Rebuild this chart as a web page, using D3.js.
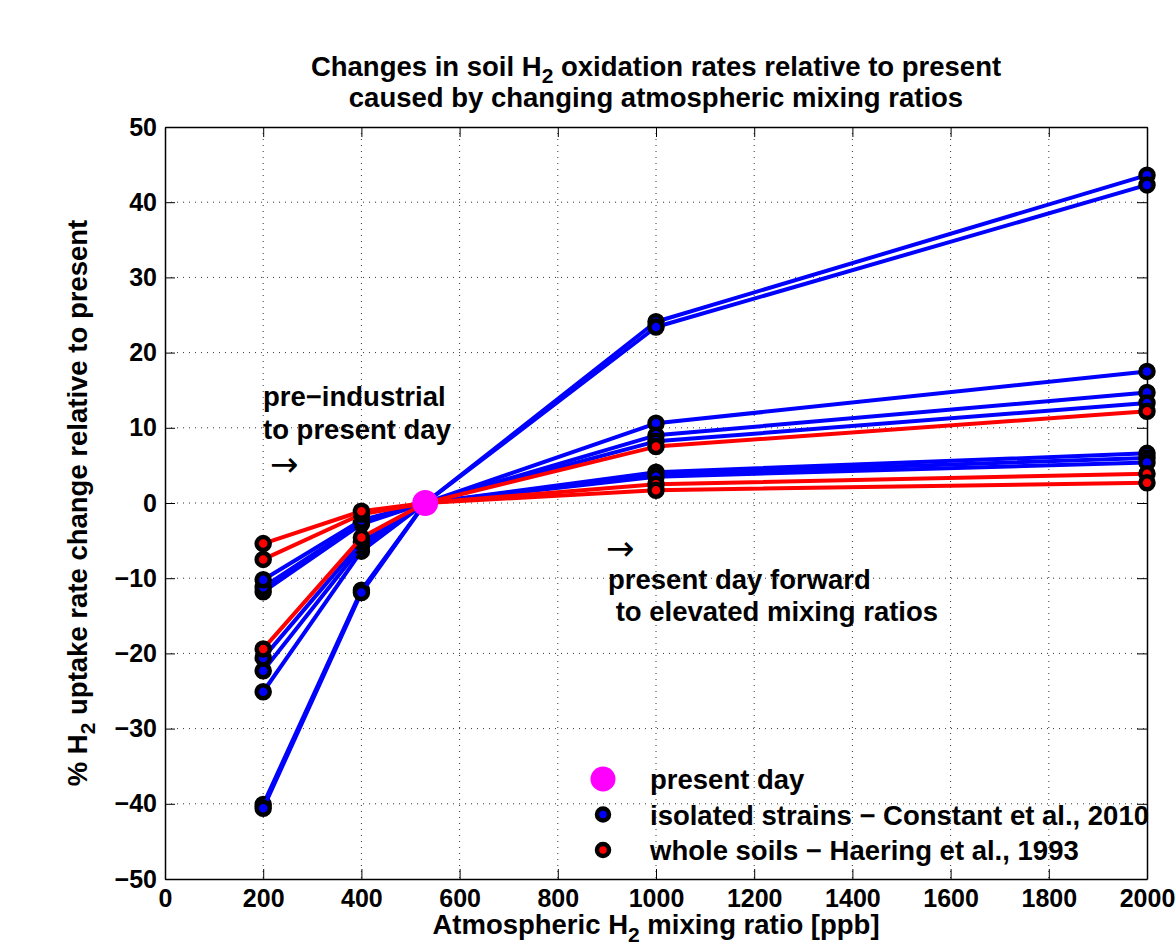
<!DOCTYPE html>
<meta charset="utf-8">
<script src="https://cdn.jsdelivr.net/npm/d3@7"></script>
<style>
body { margin: 0; background: #fff; }
text { font-family: "Liberation Sans", Arial, sans-serif; font-weight: bold; fill: #000; }
.grid line { stroke: #333; stroke-width: 1; stroke-dasharray: 1,5; }
.axis path { stroke: #000; stroke-width: 1.5; }
.axis line { stroke: #000; stroke-width: 1; }
.axis text { font-size: 25px; font-family: "Liberation Sans", Arial, sans-serif; font-weight: bold; }
path.series { fill: none; stroke-width: 4; stroke-linejoin: round; }
.arrow { font-family: "DejaVu Sans", sans-serif; font-weight: normal; font-size: 34px; }
</style>
<body>
<script>

// mixing ratios where rates were evaluated (ppb)
var mixingRatios = [200, 400, 1000, 2000];

// present day point (ppb, % change)
var presentDay = [530, 0];

// isolated strains - Constant et al., 2010 (% change at each mixing ratio)
var strainSeries = [
  [-40.1, -11.6, 24.1, 43.6],
  [-40.6, -11.9, 23.4, 42.3],
  [-25.1, -6.4, 10.6, 17.5],
  [-22.3, -5.8, 9.0, 14.7],
  [-20.6, -5.2, 8.2, 13.3],
  [-11.8, -2.8, 4.1, 6.6],
  [-11.2, -2.6, 3.8, 6.0],
  [-10.2, -2.3, 3.5, 5.4]
];

// whole soils - Haering et al., 1993
var soilSeries = [
  [-19.4, -4.6, 7.5, 12.2],
  [-7.5, -1.5, 2.5, 3.9],
  [-5.4, -1.1, 1.7, 2.7]
];

var xTickValues = [0, 200, 400, 600, 800, 1000, 1200, 1400, 1600, 1800, 2000];
var yTickValues = [-50, -40, -30, -20, -10, 0, 10, 20, 30, 40, 50];

var width = 1176,
    height = 942;

var x = d3.scaleLinear().domain([0, 2000]).range([165, 1147]);
var y = d3.scaleLinear().domain([-50, 50]).range([879, 127]);

var svg = d3.select("body").append("svg")
    .attr("width", width)
    .attr("height", height);

svg.append("rect").attr("width", width).attr("height", height).attr("fill", "#fff");

// dotted grid
var grid = svg.append("g").attr("class", "grid");
grid.selectAll(".gx")
    .data(xTickValues.slice(1, -1))
    .enter().append("line")
    .attr("x1", function(d) { return x(d); })
    .attr("x2", function(d) { return x(d); })
    .attr("y1", y(50))
    .attr("y2", y(-50));
grid.selectAll(".gy")
    .data(yTickValues.slice(1, -1))
    .enter().append("line")
    .attr("x1", x(0))
    .attr("x2", x(2000))
    .attr("y1", function(d) { return y(d); })
    .attr("y2", function(d) { return y(d); });

// axes, ticks pointing inwards on all four sides
svg.append("g").attr("class", "axis")
    .attr("transform", "translate(0," + y(-50) + ")")
    .call(d3.axisBottom(x).tickValues(xTickValues).tickSize(-10).tickSizeOuter(0).tickPadding(10).tickFormat(d3.format("d")));
svg.append("g").attr("class", "axis")
    .attr("transform", "translate(0," + y(50) + ")")
    .call(d3.axisTop(x).tickValues(xTickValues).tickSize(-10).tickSizeOuter(0).tickFormat(""));
svg.append("g").attr("class", "axis")
    .attr("transform", "translate(" + x(0) + ",0)")
    .call(d3.axisLeft(y).tickValues(yTickValues).tickSize(-10).tickSizeOuter(0).tickPadding(8));
svg.append("g").attr("class", "axis")
    .attr("transform", "translate(" + x(2000) + ",0)")
    .call(d3.axisRight(y).tickValues(yTickValues).tickSize(-10).tickSizeOuter(0).tickFormat(""));

// build points for one series, passing through the present day point
function seriesPoints(vals) {
  var pts = [];
  vals.forEach(function(v, i) {
    if (mixingRatios[i] > presentDay[0] && pts.length && pts[pts.length - 1][0] < presentDay[0]) {
      pts.push([presentDay[0], presentDay[1], true]);
    }
    pts.push([mixingRatios[i], v, false]);
  });
  return pts;
}

var line = d3.line()
    .x(function(d) { return x(d[0]); })
    .y(function(d) { return y(d[1]); });

function drawSeries(data, color) {
  data.forEach(function(vals) {
    var pts = seriesPoints(vals);
    var g = svg.append("g");
    g.append("path")
        .attr("class", "series")
        .attr("d", line(pts))
        .attr("stroke", color);
    g.selectAll("circle")
        .data(pts.filter(function(d) { return !d[2]; }))
        .enter().append("circle")
        .attr("cx", function(d) { return x(d[0]); })
        .attr("cy", function(d) { return y(d[1]); })
        .attr("r", 6.5)
        .attr("fill", color)
        .attr("stroke", "#000")
        .attr("stroke-width", 4.5);
  });
}

drawSeries(strainSeries, "#0000ff");
drawSeries(soilSeries, "#ff0000");

svg.append("circle")
    .attr("cx", x(presentDay[0]))
    .attr("cy", y(presentDay[1]))
    .attr("r", 13)
    .attr("fill", "#ff00ff");

// title
var title = svg.append("text")
    .attr("x", x(1000))
    .attr("y", 76)
    .attr("text-anchor", "middle")
    .style("font-size", "27.5px");
title.append("tspan").text("Changes in soil H");
title.append("tspan").attr("dy", 7).style("font-size", "21px").text("2");
title.append("tspan").attr("dy", -7).text(" oxidation rates relative to present");

svg.append("text")
    .attr("x", x(1000))
    .attr("y", 107)
    .attr("text-anchor", "middle")
    .style("font-size", "27.5px")
    .text("caused by changing atmospheric mixing ratios");

// x label
var xl = svg.append("text")
    .attr("x", x(1000))
    .attr("y", 934)
    .attr("text-anchor", "middle")
    .style("font-size", "27.5px");
xl.append("tspan").text("Atmospheric H");
xl.append("tspan").attr("dy", 8).style("font-size", "21px").text("2");
xl.append("tspan").attr("dy", -8).text(" mixing ratio [ppb]");

// y label
var yl = svg.append("text")
    .attr("transform", "translate(87," + y(0) + ") rotate(-90)")
    .attr("text-anchor", "middle")
    .style("font-size", "27.5px");
yl.append("tspan").text("% H");
yl.append("tspan").attr("dy", 8).style("font-size", "21px").text("2");
yl.append("tspan").attr("dy", -8).text(" uptake rate change relative to present");

// annotations
svg.append("text").attr("x", 263).attr("y", 406).style("font-size", "27.5px").text("pre\u2212industrial");
svg.append("text").attr("x", 263).attr("y", 439).style("font-size", "27.5px").text("to present day");
svg.append("text").attr("class", "arrow").attr("x", 270).attr("y", 476).text("\u2192");

svg.append("text").attr("class", "arrow").attr("x", 606).attr("y", 560).text("\u2192");
svg.append("text").attr("x", 608).attr("y", 589).style("font-size", "27.5px").text("present day forward");
svg.append("text").attr("x", 608).attr("y", 621).style("font-size", "27.5px").text("\u00a0to elevated mixing ratios");

// legend
var legendItems = [
  {label: "present day", fill: "#ff00ff", big: true},
  {label: "isolated strains \u2212 Constant et al., 2010", fill: "#0000ff", big: false},
  {label: "whole soils \u2212 Haering et al., 1993", fill: "#ff0000", big: false}
];

var legend = svg.append("g");
legendItems.forEach(function(d, i) {
  var cy = 779 + i * 35.5;
  if (d.big) {
    legend.append("circle").attr("cx", 603).attr("cy", cy).attr("r", 12.5).attr("fill", d.fill);
  } else {
    legend.append("circle").attr("cx", 603).attr("cy", cy).attr("r", 6).attr("fill", d.fill)
        .attr("stroke", "#000").attr("stroke-width", 4.5);
  }
  legend.append("text").attr("x", 650).attr("y", cy + 10).style("font-size", "27.5px").text(d.label);
});

</script>
</body>
</html>
